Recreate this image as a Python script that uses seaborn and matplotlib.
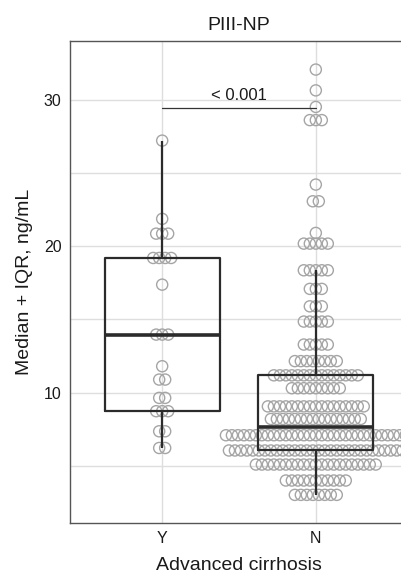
import numpy as np
import pandas as pd
import matplotlib
matplotlib.use("Agg")
import matplotlib.pyplot as plt
from matplotlib.ticker import MultipleLocator
import seaborn as sns

# ---- data (dot-plot bins) ----
groups = ["Y", "N"]

y_bins = [27.2, 21.86, 20.85, 19.19, 17.37, 13.96, 11.8, 10.89, 9.64, 8.73, 7.36, 6.22]
y_counts = [1, 1, 3, 4, 1, 3, 1, 2, 2, 3, 2, 2]

n_bins = [32.05, 30.63, 29.5, 28.6, 24.2, 23.06, 20.9, 20.17, 18.35, 17.08, 15.89,
          14.85, 13.28, 12.15, 11.18, 10.3, 9.06, 8.2, 7.09, 6.05, 5.09, 4.0, 3.02]
n_counts = [1, 1, 1, 3, 1, 2, 1, 5, 5, 3, 3, 5, 5, 8, 15, 9, 17, 16, 31, 30, 21, 11, 8]

p_label = "< 0.001"
bracket_y = 29.45

# ---- build long table, dots stacked centred like a dotplot ----
dot_step = 0.039
rows = []
for code, (g, bins, counts) in enumerate([("Y", y_bins, y_counts), ("N", n_bins, n_counts)]):
    for v, n in zip(bins, counts):
        for i in range(n):
            rows.append({"group": g, "value": v, "xpos": code + (i - (n - 1) / 2) * dot_step})
df = pd.DataFrame(rows)

# ---- plot ----
sns.set_theme(style="whitegrid")
plt.rcParams["font.family"] = ["Liberation Sans", "DejaVu Sans"]

fig = plt.figure(figsize=(4.02, 5.78), dpi=100)
ax = fig.add_axes([70 / 402, 1 - 523 / 578, 338 / 402, 482 / 578])

sns.scatterplot(data=df, x="xpos", y="value", ax=ax, s=64, marker="o",
                facecolor="none", edgecolor="#a5a5a5", linewidth=1.0, zorder=3)

sns.boxplot(data=df, x="group", y="value", order=groups, ax=ax, fill=False,
            color="#2b2b2b", width=0.75, linewidth=1.6, showfliers=False,
            showcaps=False, medianprops={"linewidth": 2.6}, zorder=4)

# significance bracket
ax.plot([0, 1], [bracket_y, bracket_y], color="#333333", linewidth=0.9, zorder=5)
ax.text(0.5, bracket_y + 0.3, p_label, ha="center", va="bottom", fontsize=12, color="#1a1a1a")

ax.set_xlim(-0.6, 1.6)
ax.set_ylim(1.1, 34.0)
ax.set_xticks([0, 1])
ax.set_xticklabels(groups)
ax.yaxis.set_major_locator(MultipleLocator(10))
ax.yaxis.set_minor_locator(MultipleLocator(5))
ax.grid(which="both", color="#dedede", linewidth=1.0)
ax.set_axisbelow(True)

for sp in ax.spines.values():
    sp.set_visible(True)
    sp.set_color("#555555")
    sp.set_linewidth(1.0)

ax.tick_params(axis="both", which="major", length=3, width=1, color="#333333",
               labelsize=11.5, labelcolor="#1a1a1a", pad=3)
ax.tick_params(axis="y", which="minor", length=0)

ax.set_title("PIII-NP", fontsize=14, color="#1a1a1a", pad=8)
ax.set_xlabel("Advanced cirrhosis", fontsize=14, color="#1a1a1a", labelpad=8)
ax.set_ylabel("Median + IQR, ng/mL", fontsize=14, color="#1a1a1a", labelpad=8)

fig.savefig("out.png", dpi=100)
